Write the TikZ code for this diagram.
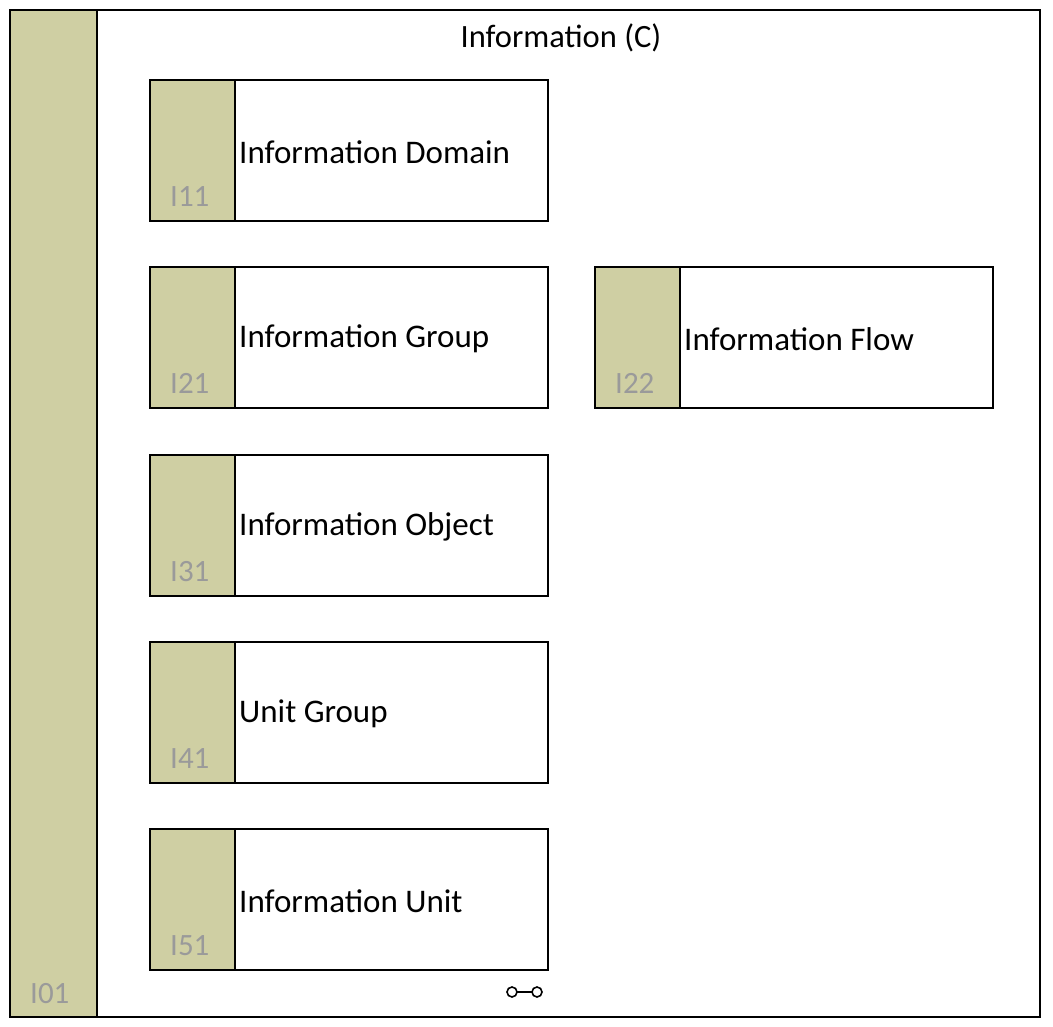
\documentclass[tikz,border=0pt]{standalone}
\usepackage{fontspec}
\setmainfont{Carlito}
\usetikzlibrary{calc}
\definecolor{strip}{HTML}{CFCFA3}
\definecolor{code}{HTML}{9A9A9A}
\tikzset{
  elem/.style={draw,line width=1.6pt,fill=white},
  stripbox/.style={draw,line width=1.6pt,fill=strip},
  codelbl/.style={anchor=south west,text=code,font=\fontsize{31}{33}\selectfont,inner sep=0pt},
  namelbl/.style={anchor=west,font=\fontsize{33}{35}\selectfont,inner sep=0pt}
}
\begin{document}
\begin{tikzpicture}[x=1pt,y=-1pt]
\useasboundingbox (0,0) rectangle (1053,1027);

% outer container
\draw[elem] (10,10) rectangle (1040,1017);
\draw[stripbox] (10,10) rectangle (97,1017);
\node[codelbl] (c01) at (30,1004) {I01};
\node[font=\fontsize{32.5}{34}\selectfont] (title) at (561,38) {Information (C)};

% elements: x, y, code, name
\foreach \x/\y/\c/\t in {150/80/I11/Information Domain, 150/267/I21/Information Group,
  595/267/I22/Information Flow, 150/455/I31/Information Object,
  150/642/I41/Unit Group, 150/829/I51/Information Unit}{
  \draw[elem] (\x,\y) rectangle ++(398,141);
  \draw[stripbox] (\x,\y) rectangle ++(85,141);
  \node[codelbl] (c\c) at ($(\x,\y)+(20,127)$) {\c};
  \node[namelbl] (n\c) at ($(\x,\y)+(89,72)$) {\t};
}

% link icon
\draw[line width=1.6pt] (512,992) circle (5) (537,992) circle (5);
\draw[line width=1.6pt] (517,992) -- (532,992);
\end{tikzpicture}
\end{document}
